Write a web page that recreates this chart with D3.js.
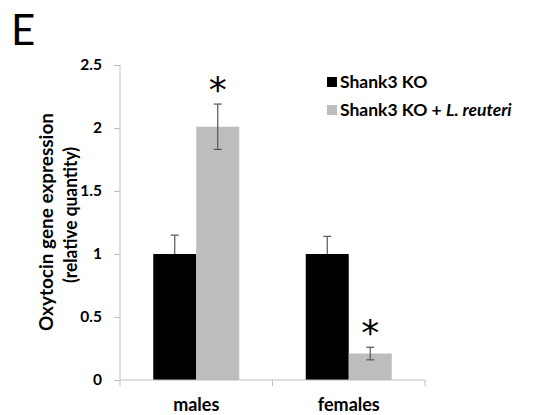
<!DOCTYPE html>
<html>
<head>
<meta charset="utf-8">
<script src="https://cdn.jsdelivr.net/npm/d3@7"></script>
<style>
  body { margin: 0; background: #fff; }
  text { font-family: Lato, "Open Sans", sans-serif; }
</style>
</head>
<body>
<svg id="chart"></svg>
<script>
// data
const groups = ["males", "females"];
const seriesNames = ["Shank3 KO", "Shank3 KO + L. reuteri"];
const seriesColors = ["#000000", "#bdbdbd"];
const koValues = [1.0, 1.0];
const koErrors = [0.15, 0.14];
const reuteriValues = [2.01, 0.21];
const reuteriErrors = [0.18, 0.05];
const significant = [true, true];
const yTicks = [0, 0.5, 1, 1.5, 2, 2.5];

const width = 539;
const height = 415;
const margin = { left: 120, right: 114, top: 65, bottom: 35 };

const svg = d3.select("#chart").attr("width", width).attr("height", height);

const x = d3.scaleBand().domain(groups).range([margin.left, width - margin.right]);
const xInner = d3.scaleBand().domain([0, 1]).range([0, 86]);
const y = d3.scaleLinear().domain([0, 2.5]).range([height - margin.bottom, margin.top]);

const rows = [];
groups.forEach((g, i) => {
  rows.push({ g, s: 0, v: koValues[i], e: koErrors[i], star: false });
  rows.push({ g, s: 1, v: reuteriValues[i], e: reuteriErrors[i], star: significant[i] });
});
const barX = d => x(d.g) + (x.bandwidth() - 86) / 2 + xInner(d.s);

// panel letter
svg.append("text").attr("x", 11).attr("y", 45)
  .style("font-size", "42px").text("E");

// y axis
const yAxis = svg.append("g").attr("transform", `translate(${margin.left},0)`)
  .call(d3.axisLeft(y).tickValues(yTicks).tickFormat(d3.format("")).tickSize(6).tickPadding(12));
yAxis.selectAll("path, line").attr("stroke", "#bfbfbf");
yAxis.selectAll("path").attr("d", `M0,${y(2.5)}V${y(0)}`);
yAxis.selectAll("text").style("font-size", "15.5px").style("font-weight", "bold")
  .style("font-family", "Lato, sans-serif").attr("fill", "#000");

// y title
const yt = svg.append("g").style("font-size", "18px").style("font-weight", "bold");
yt.append("text").attr("transform", "translate(53,222) rotate(-90)")
  .attr("text-anchor", "middle").attr("textLength", 218).attr("lengthAdjust", "spacingAndGlyphs")
  .text("Oxytocin gene expression");
yt.append("text").attr("transform", "translate(77,215) rotate(-90)")
  .attr("text-anchor", "middle").attr("textLength", 136).attr("lengthAdjust", "spacingAndGlyphs")
  .text("(relative quantity)");

// bars
svg.selectAll("rect.bar").data(rows).join("rect").attr("class", "bar")
  .attr("x", barX).attr("width", xInner.bandwidth())
  .attr("y", d => y(d.v)).attr("height", d => y(0) - y(d.v))
  .attr("fill", d => seriesColors[d.s]);

// error bars (upper only for black, both ways for gray)
const eb = svg.selectAll("g.err").data(rows).join("g").attr("class", "err")
  .attr("stroke", "#555").attr("stroke-width", 1.2);
eb.append("line")
  .attr("x1", d => barX(d) + xInner.bandwidth() / 2).attr("x2", d => barX(d) + xInner.bandwidth() / 2)
  .attr("y1", d => y(d.v + d.e)).attr("y2", d => d.s === 1 ? y(d.v - d.e) : y(d.v));
eb.append("line")
  .attr("x1", d => barX(d) + xInner.bandwidth() / 2 - 4).attr("x2", d => barX(d) + xInner.bandwidth() / 2 + 4)
  .attr("y1", d => y(d.v + d.e)).attr("y2", d => y(d.v + d.e));
eb.filter(d => d.s === 1).append("line")
  .attr("x1", d => barX(d) + xInner.bandwidth() / 2 - 4).attr("x2", d => barX(d) + xInner.bandwidth() / 2 + 4)
  .attr("y1", d => y(d.v - d.e)).attr("y2", d => y(d.v - d.e));

// asterisks
svg.selectAll("text.star").data(rows.filter(d => d.star)).join("text").attr("class", "star")
  .attr("x", d => barX(d) + xInner.bandwidth() / 2)
  .attr("y", d => y(d.v + d.e) - 2)
  .attr("text-anchor", "middle")
  .style("font-size", "36px").style("font-family", "'DejaVu Sans', sans-serif")
  .text("*");

// x axis
const xAxis = svg.append("g").attr("transform", `translate(0,${y(0)})`)
  .call(d3.axisBottom(x).tickSize(0));
xAxis.selectAll("path").attr("stroke", "#bfbfbf").attr("d", `M${margin.left},0H${width - margin.right}`);
xAxis.selectAll("text").attr("y", 31).attr("dy", null)
  .style("font-size", "18px").style("font-weight", "bold")
  .style("font-family", "Lato, sans-serif").attr("fill", "#000");
svg.selectAll("line.xtick").data([...groups.map(g => x(g)), x(groups[1]) + x.bandwidth()])
  .join("line").attr("class", "xtick")
  .attr("x1", d => d).attr("x2", d => d).attr("y1", y(0)).attr("y2", y(0) + 6)
  .attr("stroke", "#bfbfbf");

// legend
const leg = svg.append("g").attr("transform", "translate(327,76)");
seriesNames.forEach((name, i) => {
  const row = leg.append("g").attr("transform", `translate(0,${i * 28})`);
  row.append("rect").attr("width", 10).attr("height", 10).attr("y", 1).attr("fill", seriesColors[i]);
  const t = row.append("text").attr("x", 13).attr("y", 12)
    .style("font-size", "17.5px").style("font-weight", "bold");
  if (i === 1) {
    t.append("tspan").text("Shank3 KO + ");
    t.append("tspan").style("font-style", "italic").text("L. reuteri");
  } else {
    t.text(name);
  }
});
</script>
</body>
</html>
